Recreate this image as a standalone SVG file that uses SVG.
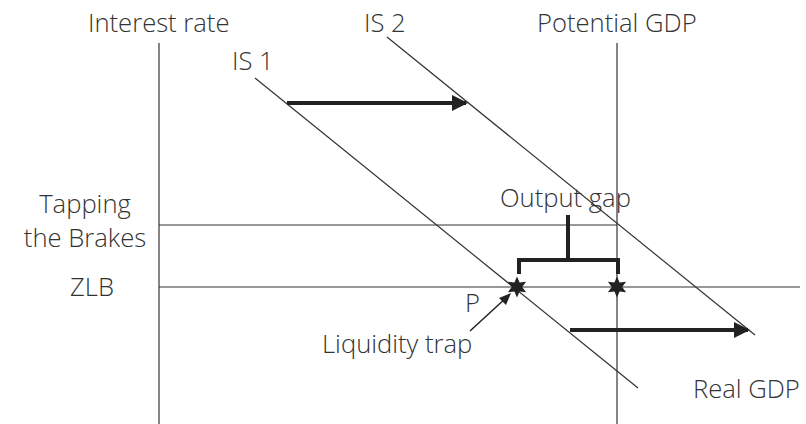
<svg xmlns="http://www.w3.org/2000/svg" width="806" height="424" viewBox="0 0 806 424">
<defs>
<style>
text{font-family:"Open Sans","Liberation Sans",sans-serif;font-size:25.6px;font-weight:300;fill:#333}
.thin{stroke:#333;stroke-width:1.2;fill:none}
.thick{stroke:#222;stroke-width:4;fill:none}
.star{fill:#222}
</style>
<marker id="ah" viewBox="0 0 16 16" refX="14" refY="8" markerWidth="16" markerHeight="16" markerUnits="userSpaceOnUse" orient="auto">
<path d="M0,0 L16,8 L0,16 Z" fill="#222"/>
</marker>
<polygon id="st" points="0,-10.5 2.6,-4.5 9.1,-5.25 5.2,0 9.1,5.25 2.6,4.5 0,10.5 -2.6,4.5 -9.1,5.25 -5.2,0 -9.1,-5.25 -2.6,-4.5"/>
</defs>
<rect width="806" height="424" fill="#fff"/>
<g id="axes">
<line class="thin" x1="159" y1="43" x2="159" y2="424"/>
<line class="thin" x1="617" y1="43" x2="617" y2="424"/>
<line class="thin" x1="159" y1="225" x2="617" y2="225"/>
<line class="thin" x1="159" y1="287" x2="800" y2="287"/>
</g>
<g id="is1"><line class="thin" x1="255" y1="78" x2="638" y2="388"/></g>
<g id="is2"><line class="thin" x1="387" y1="37" x2="755" y2="335"/></g>
<g id="connectors">
<line class="thick" x1="287" y1="103" x2="466" y2="103" marker-end="url(#ah)"/>
<line class="thick" x1="570" y1="330" x2="748" y2="330" marker-end="url(#ah)"/>
<line stroke="#222" stroke-width="1.5" x1="470" y1="331" x2="507" y2="297"/>
<polygon points="511,293 499,298 506,305" fill="#222"/>
<path class="thick" d="M519,274 V260 H618 V274 M568,260 V215"/>
</g>
<g id="stars">
<use href="#st" class="star" x="517" y="287"/>
<use href="#st" class="star" x="617" y="287"/>
</g>
<g id="labels">
<text x="88" y="32">Interest rate</text>
<text x="364" y="32">IS 2</text>
<text x="537" y="32">Potential GDP</text>
<text x="232" y="70">IS 1</text>
<text x="500" y="207">Output gap</text>
<text x="85" y="213" text-anchor="middle">Tapping</text>
<text x="85" y="247" text-anchor="middle">the Brakes</text>
<text x="92" y="296" text-anchor="middle">ZLB</text>
<text x="465" y="312">P</text>
<text x="322" y="353">Liquidity trap</text>
<text x="693" y="398">Real GDP</text>
</g>
</svg>
